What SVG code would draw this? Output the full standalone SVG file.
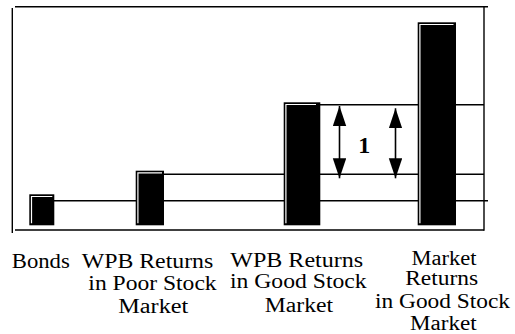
<svg xmlns="http://www.w3.org/2000/svg" width="515" height="334" viewBox="0 0 515 334">
<style>
.ln{stroke:#000;stroke-width:1.4;fill:none}
.bar{fill:#000}
.hl{stroke:#fff;stroke-width:1.2;fill:none}
.lab{font-size:20px;fill:#000;text-anchor:middle}
.num{font-size:24px;font-weight:bold;fill:#000;text-anchor:middle}
.arr{stroke:#000;stroke-width:1.6;fill:none;marker-start:url(#ah);marker-end:url(#ah)}
</style>
<defs>
<marker id="ah" markerUnits="userSpaceOnUse" markerWidth="20" markerHeight="14" refX="20" refY="6.7" orient="auto-start-reverse">
<path d="M0,0 L20,6.7 L0,13.4 Z" fill="#000"/>
</marker>
</defs>
<g id="frame">
<line class="ln" x1="12.3" y1="8" x2="12.3" y2="233"/>
<line class="ln" x1="15" y1="6.7" x2="488" y2="6.7"/>
<line class="ln" x1="484" y1="6.7" x2="484" y2="230.7"/>
<line class="ln" x1="15" y1="230" x2="484" y2="230"/>
</g>
<g id="connectors">
<line class="ln" x1="54" y1="200.7" x2="488" y2="200.7"/>
<line class="ln" x1="164" y1="174.3" x2="484" y2="174.3"/>
<line class="ln" x1="320" y1="104.7" x2="484" y2="104.7"/>
<line class="arr" x1="339.5" y1="106" x2="339.5" y2="178.3"/>
<line class="arr" x1="395.5" y1="108.3" x2="395.5" y2="178.3"/>
</g>
<g id="bar-bonds">
<rect class="bar" x="29.3" y="194.3" width="25" height="31"/>
<path class="hl" d="M31.5,223.3 V196.5 H52.3"/>
</g>
<g id="bar-wpb-poor">
<rect class="bar" x="135.7" y="170.7" width="28.3" height="54.6"/>
<path class="hl" d="M137.9,223.3 V172.9 H162"/>
</g>
<g id="bar-wpb-good">
<rect class="bar" x="283.7" y="102.3" width="36.6" height="123"/>
<path class="hl" d="M285.9,223.3 V104.5 H316"/>
</g>
<g id="bar-market-good">
<rect class="bar" x="417.7" y="22.3" width="38.3" height="203"/>
<path class="hl" d="M419.9,223.3 V24.5 H453.5"/>
</g>
<g id="diff-label" font-family="'Liberation Serif', 'DejaVu Serif', serif">
<text class="num" x="364.2" y="152.7">1</text>
</g>
<g id="labels" font-family="'Liberation Serif', 'DejaVu Serif', serif">
<g id="label-bonds">
<text class="lab" x="40.8" y="268.3" textLength="58" lengthAdjust="spacingAndGlyphs">Bonds</text>
</g>
<g id="label-wpb-poor">
<text class="lab" x="147.5" y="268.3" textLength="131.6" lengthAdjust="spacingAndGlyphs">WPB Returns</text>
<text class="lab" x="152.5" y="290" textLength="128.3" lengthAdjust="spacingAndGlyphs">in Poor Stock</text>
<text class="lab" x="153.3" y="313.3" textLength="70" lengthAdjust="spacingAndGlyphs">Market</text>
</g>
<g id="label-wpb-good">
<text class="lab" x="296.7" y="266.7" textLength="133" lengthAdjust="spacingAndGlyphs">WPB Returns</text>
<text class="lab" x="298.3" y="288.3" textLength="136.7" lengthAdjust="spacingAndGlyphs">in Good Stock</text>
<text class="lab" x="299" y="311.7" textLength="68.3" lengthAdjust="spacingAndGlyphs">Market</text>
</g>
<g id="label-market-good">
<text class="lab" x="444" y="265" textLength="65" lengthAdjust="spacingAndGlyphs">Market</text>
<text class="lab" x="441.7" y="285" textLength="73" lengthAdjust="spacingAndGlyphs">Returns</text>
<text class="lab" x="442.5" y="308.3" textLength="135" lengthAdjust="spacingAndGlyphs">in Good Stock</text>
<text class="lab" x="443.3" y="330" textLength="66.7" lengthAdjust="spacingAndGlyphs">Market</text>
</g>
</g>
</svg>
